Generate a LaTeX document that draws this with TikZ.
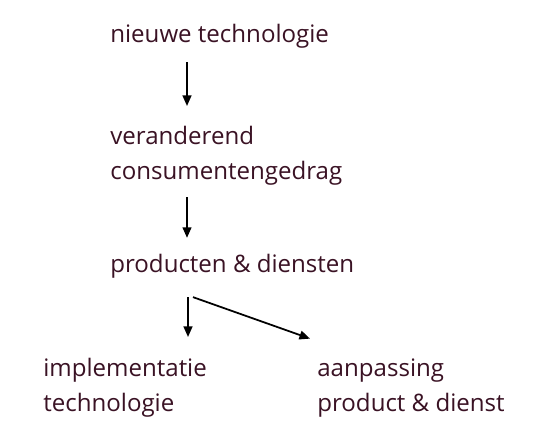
\documentclass[tikz,border=0pt]{standalone}
\usepackage{fontspec}
\setmainfont{Open Sans}
\usetikzlibrary{arrows.meta,positioning}
\definecolor{rijkstekst}{RGB}{58,18,36}

\begin{document}
\begin{tikzpicture}[
    lbl/.style={font=\fontsize{13.7}{20.4}\selectfont, text=rijkstekst, inner sep=0pt, align=left, anchor=base west},
    pijl/.style={-{Triangle[length=6pt,width=5pt]}, line width=1pt}
]
\useasboundingbox (0,0) rectangle (10.8,8.84);
% Blokken (base = laatste regel)
\node[lbl] (tech) at (2.2,7.98) {nieuwe technologie};
\node[lbl] (gedrag) at (2.2,5.24) {veranderend\\consumentengedrag};
\node[lbl] (aanbod) at (2.2,3.38) {producten \& diensten};
\node[lbl] (impl) at (0.86,0.6) {implementatie\\technologie};
\node[lbl] (aanp) at (6.34,0.6) {aanpassing\\product \& dienst};

% Pijlen
\draw[pijl] ([shift={(1.54,-0.26)}]tech.south west) -- ([shift={(1.54,0.39)}]gedrag.north west);
\draw[pijl] ([shift={(1.54,-0.22)}]gedrag.south west) -- ([shift={(1.54,0.33)}]aanbod.north west);
\draw[pijl] ([shift={(1.56,-0.36)}]aanbod.south west) -- ([shift={(2.9,0.41)}]impl.north west);
\draw[pijl] ([shift={(1.66,-0.36)}]aanbod.south west) -- ([shift={(-0.14,0.39)}]aanp.north west);
\end{tikzpicture}
\end{document}
